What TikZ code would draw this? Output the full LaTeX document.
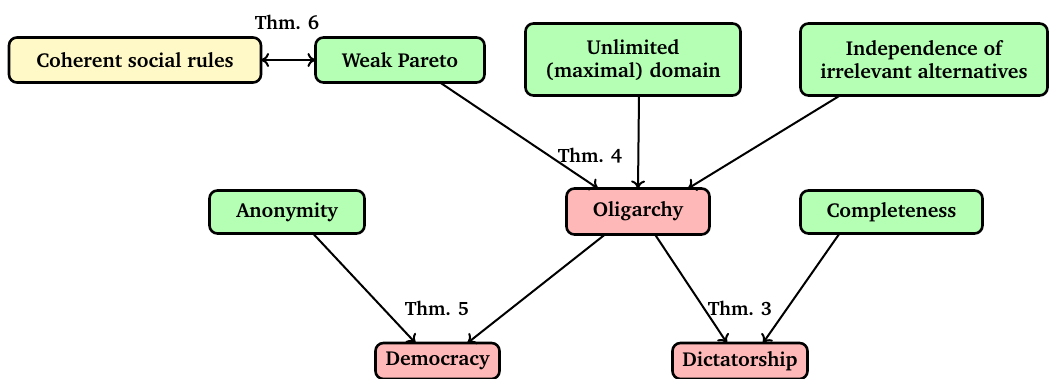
\documentclass[tikz,border=0pt]{standalone}
\usepackage[T1]{fontenc}
\renewcommand{\rmdefault}{bch}
\usetikzlibrary{arrows.meta}
\definecolor{condgreen}{RGB}{180,255,180}
\definecolor{resultred}{RGB}{255,184,184}
\definecolor{ruleyellow}{RGB}{255,249,199}
\tikzset{
  box/.style={draw, line width=1.3pt, rounded corners=4pt, font=\bfseries\fontsize{10.1}{11.6}\selectfont,
    align=center, inner sep=0pt, outer sep=0pt},
  cond/.style={box, fill=condgreen},
  res/.style={box, fill=resultred},
  rule/.style={box, fill=ruleyellow},
  thm/.style={font=\bfseries\fontsize{9.7}{11}\selectfont, inner sep=0pt},
  link/.style={line width=1pt, -{To[length=4pt,width=7pt]}},
}
\begin{document}
\begin{tikzpicture}[x=0.5pt,y=-0.5pt]
\useasboundingbox (0,0) rectangle (1051,379);
% assumptions
\node[rule, minimum width=126pt, minimum height=22.5pt] (csr) at (135,60) {Coherent social rules};
\node[cond, minimum width=84.5pt, minimum height=22.5pt] (wp) at (400,60) {Weak Pareto};
\node[cond, minimum width=107.5pt, minimum height=36pt] (ud) at (633,59.5) {Unlimited\\(maximal) domain};
\node[cond, minimum width=123.5pt, minimum height=36pt] (iia) at (924,59.5) {Independence of\\irrelevant alternatives};
\node[cond, minimum width=77.5pt, minimum height=21.5pt] (anon) at (287,212) {Anonymity};
\node[cond, minimum width=91pt, minimum height=21.5pt] (comp) at (891.5,212) {Completeness};
% results
\node[res, minimum width=71.5pt, minimum height=23pt] (olig) at (638,211.5) {Oligarchy};
\node[res, minimum width=62pt, minimum height=18pt] (demo) at (437.5,361) {Democracy};
\node[res, minimum width=67.5pt, minimum height=18pt] (dict) at (740,361) {Dictatorship};
% theorem labels
\node[thm] (t6) at (287,22) {Thm. 6};
\node[thm] (t4) at (590,155) {Thm. 4};
\node[thm] (t5) at (437,308) {Thm. 5};
\node[thm] (t3) at (740,308) {Thm. 3};
% implications
\draw[line width=1pt, {To[length=4pt,width=7pt]}-{To[length=4pt,width=7pt]}] (csr.east) -- (wp.west);
\draw[link] ([xshift=20pt]wp.south) -- ([xshift=-20pt]olig.north);
\draw[link] ([xshift=3pt]ud.south) -- (olig.north);
\draw[link] ([xshift=-42pt]iia.south) -- ([xshift=25pt]olig.north);
\draw[link] ([xshift=13pt]anon.south) -- ([xshift=-11pt]demo.north);
\draw[link] ([xshift=-16.5pt]olig.south) -- ([xshift=15pt]demo.north);
\draw[link] ([xshift=8.5pt]olig.south) -- ([xshift=-6.5pt]dict.north);
\draw[link] ([xshift=-26pt]comp.south) -- ([xshift=11.5pt]dict.north);
\end{tikzpicture}
\end{document}
